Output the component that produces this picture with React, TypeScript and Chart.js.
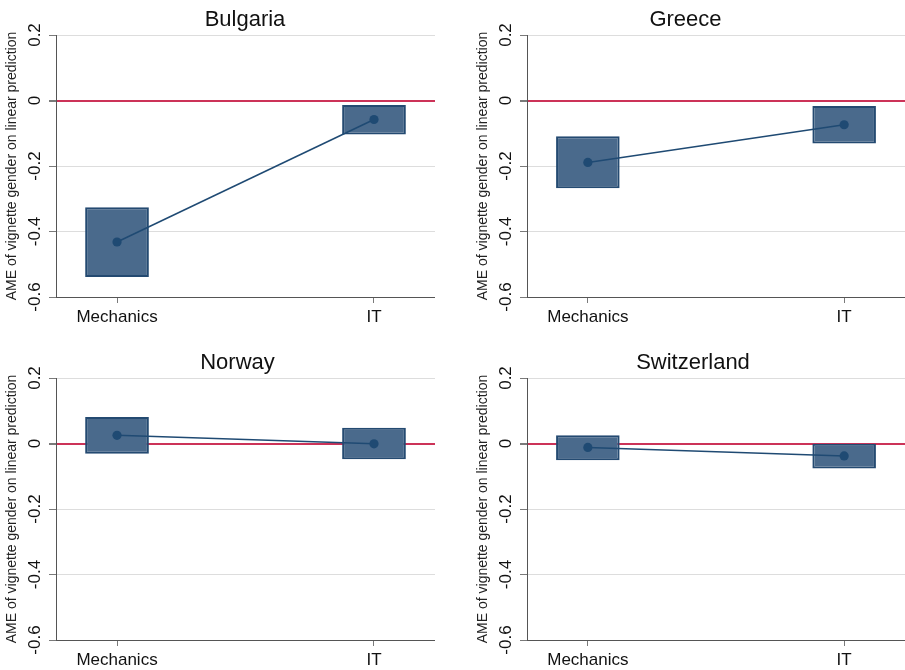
import React, { useEffect, useRef } from 'react';
import { Chart, registerables } from 'chart.js';

Chart.register(...registerables);

// ---------------- data ----------------
const categories = ['Mechanics', 'IT'];
const categoryPositions = [0, 1];
const countries = ['Bulgaria', 'Greece', 'Norway', 'Switzerland'];

const bulgariaEstimate = [-0.432, -0.058];
const bulgariaLower = [-0.539, -0.104];
const bulgariaUpper = [-0.326, -0.014];

const greeceEstimate = [-0.189, -0.074];
const greeceLower = [-0.268, -0.131];
const greeceUpper = [-0.109, -0.017];

const norwayEstimate = [0.025, -0.001];
const norwayLower = [-0.031, -0.048];
const norwayUpper = [0.081, 0.048];

const switzerlandEstimate = [-0.012, -0.038];
const switzerlandLower = [-0.051, -0.076];
const switzerlandUpper = [0.025, -0.001];

const yTickValues = [0.2, 0, -0.2, -0.4, -0.6];
const yTickLabels = ['0.2', '0', '-0.2', '-0.4', '-0.6'];
const yAxisTitle = 'AME of vignette gender on linear prediction';

// ---------------- style ----------------
const FONT = '"Liberation Sans", Arial, Helvetica, sans-serif';
const NAVY = '#1f4a73';
const BOX_FILL = '#4a6a8c';
const BOX_EDGE = '#244a71';
const ZERO_RED = '#cc3358';
const GRID = '#dddddd';
const TICK = '#7a7a7a';
const AXIS = '#555555';

const titleShift = {
  id: 'titleShift',
  afterLayout(chart: any, _args: any, opts: any) {
    const tb = chart.titleBlock;
    if (tb && opts && typeof opts.center === 'number') {
      const w = tb.right - tb.left;
      tb.left = opts.center - w / 2;
      tb.right = opts.center + w / 2;
    }
  },
};

type PanelSpec = {
  title: string;
  est: number[];
  lo: number[];
  hi: number[];
  left: number;
  top: number;
  w: number;
  h: number;
  titleCenter: number;
};

const panels: PanelSpec[] = [
  { title: countries[0], est: bulgariaEstimate, lo: bulgariaLower, hi: bulgariaUpper, left: 0, top: 0, w: 435, h: 327, titleCenter: 245 },
  { title: countries[1], est: greeceEstimate, lo: greeceLower, hi: greeceUpper, left: 471, top: 0, w: 434, h: 327, titleCenter: 214.5 },
  { title: countries[2], est: norwayEstimate, lo: norwayLower, hi: norwayUpper, left: 0, top: 343, w: 435, h: 327, titleCenter: 237.5 },
  { title: countries[3], est: switzerlandEstimate, lo: switzerlandLower, hi: switzerlandUpper, left: 471, top: 343, w: 434, h: 327, titleCenter: 222 },
];

function makeConfig(p: PanelSpec): any {
  const sortedY = [...yTickValues].sort((a, b) => a - b);
  return {
    type: 'bar',
    data: {
      datasets: [
        {
          type: 'line',
          data: categoryPositions.map((x, i) => ({ x, y: p.est[i] })),
          borderColor: NAVY,
          borderWidth: 1.5,
          pointRadius: 4.6,
          pointBackgroundColor: NAVY,
          pointBorderWidth: 0,
          order: 0,
        },
        {
          type: 'bar',
          data: categoryPositions.map((x, i) => ({ x, y: [p.lo[i], p.hi[i]] })),
          backgroundColor: BOX_FILL,
          borderColor: BOX_EDGE,
          borderWidth: 2,
          borderSkipped: false,
          categoryPercentage: 1,
          barPercentage: 0.248,
          order: 1,
        },
      ],
    },
    options: {
      responsive: false,
      animation: false,
      events: [],
      layout: { padding: 0, autoPadding: false },
      plugins: {
        legend: { display: false },
        tooltip: { enabled: false },
        title: {
          display: true,
          text: p.title,
          color: '#111111',
          font: { family: FONT, size: 22, weight: 'normal', lineHeight: 1.2 },
          padding: { top: 7, bottom: 1.6 },
        },
        titleShift: { center: p.titleCenter },
      },
      scales: {
        x: {
          type: 'linear',
          min: -0.2374,
          max: 1.2374,
          offset: false,
          afterBuildTicks: (s: any) => {
            s.ticks = categoryPositions.map((v) => ({ value: v }));
          },
          afterFit: (s: any) => {
            s.height = 30;
          },
          ticks: {
            autoSkip: false,
            maxRotation: 0,
            padding: 4.5,
            color: '#111111',
            font: { family: FONT, size: 17 },
            callback: (v: number) => {
              const i = categoryPositions.indexOf(v);
              return i >= 0 ? categories[i] : '';
            },
          },
          grid: { drawOnChartArea: false, offset: false, tickLength: 6, color: TICK, tickColor: TICK },
          border: { color: AXIS, width: 1 },
        },
        y: {
          type: 'linear',
          min: -0.6,
          max: 0.2,
          afterBuildTicks: (s: any) => {
            s.ticks = sortedY.map((v) => ({ value: v }));
          },
          afterFit: (s: any) => {
            s.width = 56;
          },
          ticks: {
            minRotation: 90,
            maxRotation: 90,
            crossAlign: 'center',
            padding: -1,
            color: '#111111',
            font: { family: FONT, size: 17 },
            callback: (v: number) => {
              const i = yTickValues.indexOf(v);
              return i >= 0 ? yTickLabels[i] : '';
            },
          },
          grid: {
            color: (c: any) => (c.tick && c.tick.value === 0 ? ZERO_RED : GRID),
            lineWidth: (c: any) => (c.tick && c.tick.value === 0 ? 2 : 1),
            tickColor: TICK,
            tickLength: 7,
          },
          border: { color: AXIS, width: 1 },
          title: {
            display: true,
            text: yAxisTitle,
            color: '#222222',
            font: { family: FONT, size: 14 },
            padding: { top: 4, bottom: 0 },
          },
        },
      },
    },
    plugins: [titleShift],
  };
}

function Panel({ spec }: { spec: PanelSpec }) {
  const ref = useRef<HTMLCanvasElement | null>(null);
  useEffect(() => {
    if (!ref.current) return;
    const chart = new Chart(ref.current, makeConfig(spec));
    return () => chart.destroy();
  }, [spec]);
  return (
    <canvas
      ref={ref}
      width={spec.w}
      height={spec.h}
      style={{ position: 'absolute', left: spec.left, top: spec.top, width: spec.w, height: spec.h }}
    />
  );
}

export default function App() {
  return (
    <div
      style={{
        position: 'fixed',
        left: 0,
        top: 0,
        width: 905,
        height: 670,
        overflow: 'hidden',
        background: '#ffffff',
      }}
    >
      {panels.map((p) => (
        <Panel key={p.title} spec={p} />
      ))}
    </div>
  );
}
